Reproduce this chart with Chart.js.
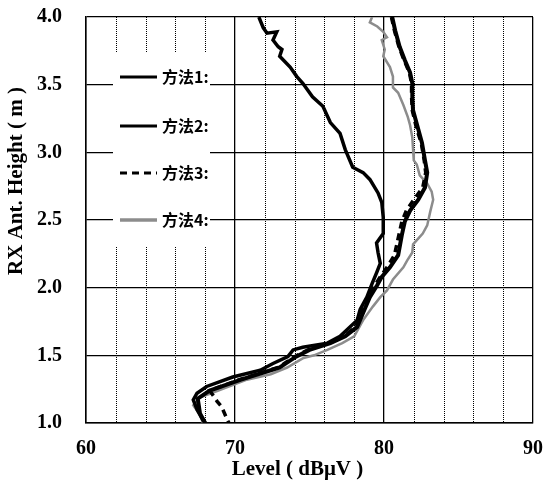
<!DOCTYPE html>
<html>
<head>
<meta charset="utf-8">
<script src="https://cdn.jsdelivr.net/npm/chart.js@4"></script>
<style>
  html, body { margin: 0; padding: 0; background: #fff; }
  canvas { display: block; }
</style>
</head>
<body>
<canvas id="chart" width="544" height="485"></canvas>
<script>
// received level vs. antenna height, one pair of arrays per method
const seriesNames = ['方法1:', '方法2:', '方法3:', '方法4:'];

const height1 = [4.0, 3.92, 3.88, 3.89, 3.83, 3.78, 3.76, 3.71, 3.63, 3.56, 3.51, 3.41, 3.34, 3.22, 3.14, 3.02, 2.89, 2.85, 2.80, 2.70, 2.63, 2.52, 2.40, 2.33, 2.26, 2.18, 2.11, 2.03, 1.93, 1.84, 1.76, 1.64, 1.59, 1.56, 1.54, 1.49, 1.44, 1.39, 1.34, 1.27, 1.22, 1.17, 1.10, 1.02, 1.0];
const level1 = [71.6, 71.9, 72.15, 72.8, 72.55, 72.9, 73.15, 73.0, 73.7, 74.15, 74.55, 75.2, 75.9, 76.4, 77.05, 77.4, 77.9, 78.6, 79.05, 79.6, 79.85, 79.95, 79.95, 79.5, 79.6, 79.75, 79.5, 79.2, 78.85, 78.4, 78.2, 77.05, 76.2, 74.55, 73.9, 73.55, 72.55, 71.7, 69.85, 68.1, 67.45, 67.2, 67.45, 67.85, 68.0];

const height2 = [4.0, 3.90, 3.78, 3.68, 3.59, 3.51, 3.41, 3.31, 3.17, 3.07, 2.94, 2.85, 2.74, 2.65, 2.57, 2.49, 2.39, 2.24, 2.15, 2.08, 2.02, 1.93, 1.84, 1.71, 1.64, 1.59, 1.54, 1.49, 1.41, 1.39, 1.32, 1.24, 1.18, 1.07, 1.0];
const level2 = [80.55, 80.75, 81.05, 81.4, 81.75, 81.9, 81.9, 81.95, 82.3, 82.55, 82.75, 82.9, 82.75, 82.3, 81.75, 81.4, 81.2, 80.95, 80.4, 79.85, 79.55, 79.05, 78.7, 78.2, 77.4, 76.4, 75.0, 74.1, 73.0, 72.4, 70.4, 68.3, 67.5, 67.65, 68.0];

const height3 = [4.0, 3.90, 3.78, 3.68, 3.59, 3.51, 3.41, 3.31, 3.17, 3.07, 2.94, 2.85, 2.74, 2.65, 2.57, 2.49, 2.39, 2.24, 2.15, 2.08, 2.02, 1.93, 1.84, 1.71, 1.64, 1.59, 1.54, 1.49, 1.41, 1.39, 1.32, 1.24, 1.16, 1.12, 1.07, 1.02, 1.0];
const level3 = [80.5, 80.7, 81.0, 81.35, 81.7, 81.85, 81.85, 81.9, 82.2, 82.5, 82.7, 82.8, 82.6, 82.0, 81.5, 81.2, 81.0, 80.7, 80.2, 79.75, 79.4, 78.95, 78.6, 78.1, 77.3, 76.3, 74.9, 74.0, 72.9, 72.3, 70.3, 68.3, 68.8, 69.1, 69.3, 69.5, 69.6];

const height4 = [4.0, 3.96, 3.93, 3.89, 3.85, 3.83, 3.76, 3.71, 3.63, 3.56, 3.48, 3.44, 3.35, 3.26, 3.20, 3.11, 3.02, 2.94, 2.91, 2.83, 2.77, 2.71, 2.65, 2.56, 2.46, 2.40, 2.32, 2.26, 2.20, 2.15, 2.06, 1.98, 1.93, 1.86, 1.76, 1.64, 1.59, 1.54, 1.50, 1.48, 1.41, 1.36, 1.32, 1.22, 1.19, 1.13, 1.06, 1.0];
const level4 = [79.2, 79.05, 79.55, 79.95, 80.2, 79.85, 80.05, 79.95, 80.4, 80.6, 80.6, 80.95, 81.3, 81.6, 81.75, 81.9, 81.95, 82.0, 82.2, 82.4, 82.9, 83.2, 83.3, 83.1, 82.9, 82.6, 81.95, 81.9, 81.55, 81.3, 80.6, 80.2, 79.75, 79.25, 78.6, 78.0, 77.2, 76.2, 75.3, 74.6, 73.5, 72.4, 70.8, 68.4, 67.65, 67.2, 67.65, 67.85];

const xTicks = [60, 70, 80, 90];
const minorLevels = [62, 64, 66, 68, 72, 74, 76, 78, 82, 84, 86, 88];
const yTicks = [1.0, 1.5, 2.0, 2.5, 3.0, 3.5, 4.0];
const xTitle = 'Level ( dBμV )';
const yTitle = 'RX Ant. Height ( m )';

function points(levels, heights) {
  return levels.map((v, i) => ({ x: v, y: heights[i] }));
}

const serif = '"Liberation Serif", "Times New Roman", serif';

const lineStyles = [
  { color: '#000', width: 3.5, dash: [] },
  { color: '#000', width: 4, dash: [] },
  { color: '#000', width: 3.5, dash: [7, 5] },
  { color: '#8c8c8c', width: 2.5, dash: [] }
];

const decor = {
  id: 'decor',
  beforeDatasetsDraw(chart) {
    const { ctx, chartArea: a, scales: { x } } = chart;
    ctx.save();
    // dotted minor verticals every 2 dB
    ctx.strokeStyle = '#000';
    ctx.lineWidth = 1;
    ctx.setLineDash([1, 1]);
    minorLevels.forEach(v => {
      const px = Math.round(x.getPixelForValue(v)) + 0.5;
      ctx.beginPath();
      ctx.moveTo(px, a.top);
      ctx.lineTo(px, a.bottom);
      ctx.stroke();
    });
    ctx.setLineDash([]);
    // legend sits on a white block over the grid
    ctx.fillStyle = '#fff';
    ctx.fillRect(a.left + 27, a.top + 36, 97, 193);
    ctx.restore();
  },
  afterDraw(chart) {
    const { ctx, chartArea: a } = chart;
    ctx.save();
    // legend
    const rows = [60, 109, 156, 203];
    chart.data.datasets.forEach((ds, i) => {
      const s = lineStyles[i];
      const ly = a.top + rows[i];
      ctx.strokeStyle = s.color;
      ctx.lineWidth = i === 3 ? 3.5 : 2.8;
      ctx.setLineDash(s.dash);
      ctx.beginPath();
      ctx.moveTo(a.left + 34, ly);
      ctx.lineTo(a.left + 71, ly);
      ctx.stroke();
      ctx.setLineDash([]);
      ctx.fillStyle = '#000';
      ctx.font = 'bold 16px "Noto Sans CJK SC", sans-serif';
      ctx.textAlign = 'left';
      ctx.textBaseline = 'middle';
      ctx.fillText(ds.label, a.left + 76, ly);
    });
    // axis titles
    ctx.fillStyle = '#000';
    ctx.font = 'bold 21px ' + serif;
    ctx.textAlign = 'center';
    ctx.textBaseline = 'middle';
    ctx.fillText(xTitle, (a.left + a.right) / 2 - 12, 470);
    ctx.translate(17, 181);
    ctx.rotate(-Math.PI / 2);
    ctx.fillText(yTitle, 0, 0);
    ctx.restore();
  }
};

new Chart(document.getElementById('chart'), {
  type: 'scatter',
  data: {
    datasets: seriesNames.map((name, i) => ({
      label: name,
      data: points([level1, level2, level3, level4][i], [height1, height2, height3, height4][i]),
      showLine: true,
      borderColor: lineStyles[i].color,
      borderWidth: lineStyles[i].width,
      borderDash: lineStyles[i].dash,
      pointRadius: 0,
      tension: 0,
      fill: false
    }))
  },
  options: {
    responsive: false,
    devicePixelRatio: 1,
    animation: false,
    layout: { padding: { top: 17, right: 11, left: 0, bottom: 0 } },
    plugins: { legend: { display: false }, tooltip: { enabled: false } },
    scales: {
      x: {
        type: 'linear',
        min: xTicks[0],
        max: xTicks[xTicks.length - 1],
        afterBuildTicks: s => { s.ticks = xTicks.map(v => ({ value: v })); },
        afterFit: s => { s.height = 62; s.paddingLeft = 0; s.paddingRight = 0; },
        ticks: { color: '#000', font: { family: serif, size: 20, weight: 'bold' }, padding: 14, maxRotation: 0, autoSkip: false },
        grid: { color: '#000', lineWidth: 1.3, drawTicks: false },
        border: { color: '#000', width: 1.5 }
      },
      y: {
        type: 'linear',
        min: yTicks[0],
        max: yTicks[yTicks.length - 1],
        afterBuildTicks: s => { s.ticks = yTicks.map(v => ({ value: v })); },
        afterFit: s => { s.width = 86; s.paddingTop = 0; s.paddingBottom = 0; },
        ticks: { color: '#000', font: { family: serif, size: 20, weight: 'bold' }, padding: 24, callback: v => v.toFixed(1), autoSkip: false },
        grid: { color: '#000', lineWidth: 1.3, drawTicks: false },
        border: { color: '#000', width: 1.5 }
      }
    }
  },
  plugins: [decor]
});
</script>
</body>
</html>
